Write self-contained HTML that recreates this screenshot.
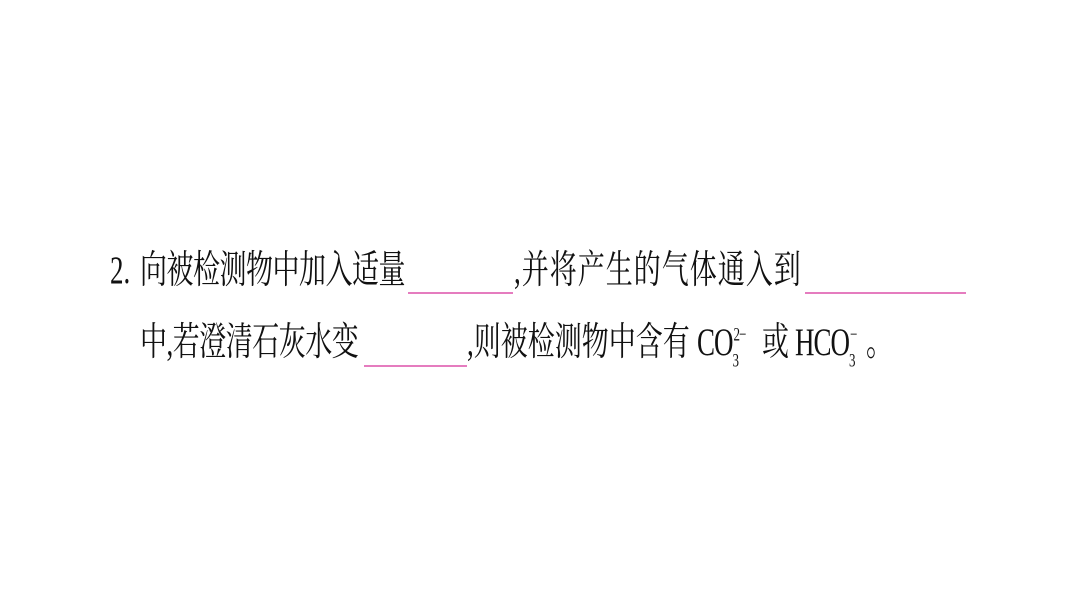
<!DOCTYPE html>
<html><head><meta charset="utf-8"><style>
body{margin:0;width:1066px;height:600px;background:#fff;position:relative;overflow:hidden}
.t{position:absolute;font-family:"Liberation Serif","Noto Serif CJK SC",serif;font-size:27px;line-height:27px;color:#111;white-space:nowrap;transform-origin:0 0;transform:scaleY(1.45)}
.u{position:absolute;height:2px;background:#e57cbf}
</style></head><body>
<div class="t" style="left:110px;top:251px">2.</div>
<div class="t" style="left:140px;top:251px;letter-spacing:-0.5px">向被检测物中加入适量</div>
<div class="u" style="left:408px;top:292px;width:105px"></div>
<div class="t" style="left:514px;top:251px;letter-spacing:1px">,并将产生的气体通入到</div>
<div class="u" style="left:805px;top:292px;width:161px"></div>
<div class="t" style="left:140px;top:323px;letter-spacing:-0.5px">中,若澄清石灰水变</div>
<div class="u" style="left:364px;top:365px;width:103px"></div>
<div class="t" style="left:467px;top:323px;letter-spacing:0px">,则被检测物中含有</div>
<div class="t" style="left:697px;top:323px;letter-spacing:-1px">CO<span style="position:relative"><span style="position:absolute;left:0;top:14px;font-size:13px">3</span><span style="position:absolute;left:1px;top:-4px;font-size:13px">2−</span></span></div>
<div class="t" style="left:762px;top:323px">或</div>
<div class="t" style="left:795px;top:323px;letter-spacing:-1px">HCO<span style="position:relative"><span style="position:absolute;left:0;top:14px;font-size:13px">3</span><span style="position:absolute;left:1px;top:-4px;font-size:13px">−</span></span></div>
<div class="t" style="left:866px;top:323px">。</div>
</body></html>
